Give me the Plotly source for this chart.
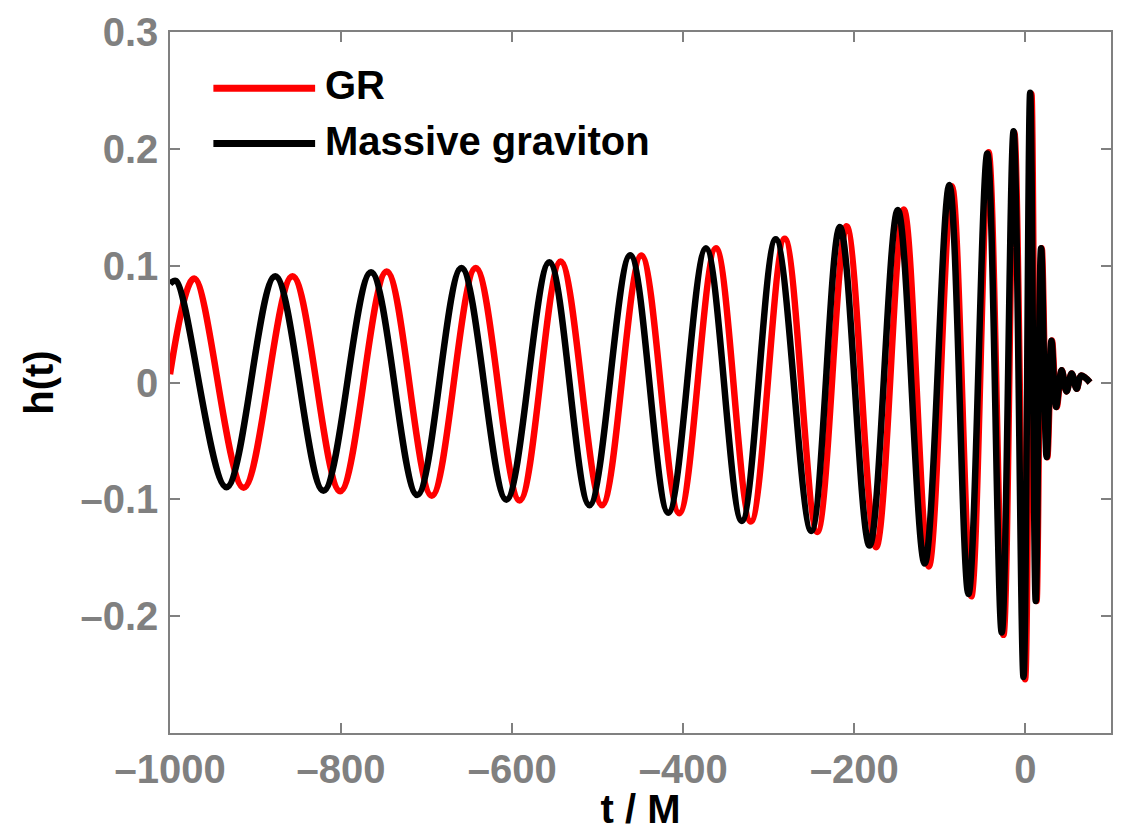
import plotly.graph_objects as go

# ---- data (extrema of each waveform) ----
gr_t = [-1000, -971.7, -913.9, -856.8, -801.0, -746.7, -694.0, -642.6, -591.3,
        -543.4, -495.0, -449.0, -404.7, -361.9, -321.0, -281.4, -243.4, -209.1,
        -174.6, -142.2, -113.0, -86.0, -63.3, -43.1, -25.7, -13.0, -0.4, 7.0,
        13.0, 19.0, 25.5, 31.0, 36.5, 42.5, 48.0, 54.0, 60.0, 65.0, 75.5]
gr_h = [0.007, 0.089, -0.090, 0.091, -0.093, 0.095, -0.097, 0.098, -0.101,
        0.1036, -0.105, 0.1087, -0.112, 0.115, -0.119, 0.123, -0.128, 0.1337,
        -0.141, 0.148, -0.1575, 0.168, -0.183, 0.197, -0.216, 0.214, -0.254, 0.247,
        -0.187, 0.115, -0.064, 0.036, -0.021, 0.0104, -0.0076, 0.0078, -0.0053, 0.0059, 0.0]

mg_t = [-1000, -993.0, -934.0, -877.0, -820.6, -765.0, -711.0, -659.3, -606.8,
        -556.6, -509.6, -462.0, -417.5, -373.5, -331.6, -291.9, -250.4, -216.9,
        -182.3, -149.2, -117.8, -89.0, -66.6, -44.6, -27.7, -13.9, -2.3, 5.5,
        12.0, 18.3, 24.8, 30.4, 35.8, 42.3, 48.0, 54.0, 59.8, 65.0, 75.5]
mg_h = [0.0845, 0.087, -0.0896, 0.091, -0.0927, 0.0944, -0.0963, 0.098, -0.1003,
        0.103, -0.105, 0.109, -0.1115, 0.115, -0.1185, 0.1227, -0.127, 0.133,
        -0.1396, 0.1477, -0.155, 0.169, -0.181, 0.196, -0.214, 0.215, -0.252, 0.248,
        -0.187, 0.115, -0.0638, 0.0357, -0.021, 0.0104, -0.0076, 0.0078, -0.0053, 0.0059, 0.0]

x_ticks = [-1000, -800, -600, -400, -200, 0]
x_ticktext = ["\u20131000", "\u2013800", "\u2013600", "\u2013400", "\u2013200", "0"]
y_ticks = [-0.2, -0.1, 0, 0.1, 0.2, 0.3]
y_ticktext = ["\u20130.2", "\u20130.1", "0", "0.1", "0.2", "0.3"]

series_names = ["GR", "Massive graviton"]
series_colors = ["#ff0000", "#000000"]

GRAY = "#808080"
FONT = "Liberation Sans"

fig = go.Figure()
for name, t, h, col in [(series_names[0], gr_t, gr_h, series_colors[0]),
                        (series_names[1], mg_t, mg_h, series_colors[1])]:
    fig.add_trace(go.Scatter(x=t, y=h, mode="lines", name=name,
                             line=dict(color=col, width=6.5, shape="spline", smoothing=1),
                             showlegend=False))

# manual legend (long line samples as in the reference)
for i, (name, col) in enumerate(zip(series_names, series_colors)):
    ypx = [84, 140][i]
    yp = 1 - (ypx - 27) / 710
    fig.add_shape(type="line", xref="paper", yref="paper",
                  x0=(213 - 169.5) / 943.5, x1=(315 - 169.5) / 943.5, y0=yp, y1=yp,
                  line=dict(color=col, width=7))
    fig.add_annotation(xref="paper", yref="paper", x=(323 - 169.5) / 943.5, y=yp + 0.004,
                       text=name, showarrow=False, xanchor="left", yanchor="middle",
                       font=dict(family=FONT, size=40, color="black", weight="bold"))

axis_common = dict(showline=True, linecolor=GRAY, linewidth=1.5, mirror="ticks",
                   ticks="inside", ticklen=10, tickwidth=1.5, tickcolor=GRAY,
                   showgrid=False, zeroline=False,
                   tickfont=dict(family=FONT, size=40, color=GRAY, weight="bold"))

fig.update_xaxes(range=[-1000, 100], tickvals=x_ticks, ticktext=x_ticktext,
                 title=dict(text="t / M", standoff=2,
                            font=dict(family=FONT, size=40, color="black", weight="bold")),
                 **axis_common)
fig.update_yaxes(range=[-0.3, 0.3], tickvals=y_ticks, ticktext=y_ticktext,
                 ticklabelstandoff=2,
                 title=dict(text="h(t)", standoff=14,
                            font=dict(family=FONT, size=40, color="black", weight="bold")),
                 **axis_common)

fig.update_layout(width=1123, height=831, autosize=False,
                  margin=dict(l=169.5, r=10, t=27, b=94),
                  paper_bgcolor="white", plot_bgcolor="white",
                  showlegend=False)

fig.write_html("out.html")
